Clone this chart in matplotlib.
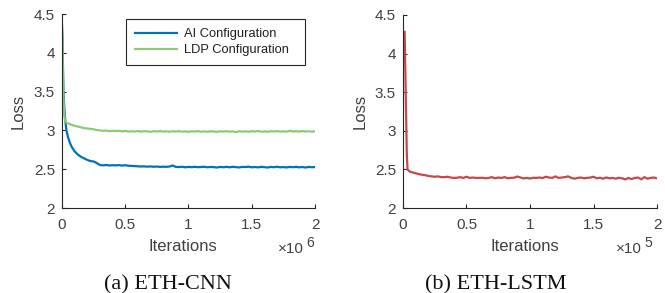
import matplotlib
matplotlib.use('Agg')
import matplotlib.pyplot as plt

# ETH-CNN, iterations in units of 1e6
cnn_iter = [0, 0.004, 0.008, 0.012, 0.018, 0.025, 0.035, 0.05, 0.065, 0.08,
            0.1, 0.125, 0.15, 0.175, 0.2, 0.225, 0.25, 0.275,
            0.3, 0.325, 0.35, 0.375, 0.4, 0.425, 0.45, 0.475, 0.5, 0.525,
            0.55, 0.575, 0.6, 0.625, 0.65, 0.675, 0.7, 0.725, 0.75, 0.775,
            0.8, 0.825, 0.85, 0.875, 0.9, 0.925, 0.95, 0.975, 1.0, 1.025,
            1.05, 1.075, 1.1, 1.125, 1.15, 1.175, 1.2, 1.225, 1.25, 1.275,
            1.3, 1.325, 1.35, 1.375, 1.4, 1.425, 1.45, 1.475, 1.5, 1.525,
            1.55, 1.575, 1.6, 1.625, 1.65, 1.675, 1.7, 1.725, 1.75, 1.775,
            1.8, 1.825, 1.85, 1.875, 1.9, 1.925, 1.95, 1.975, 2.0]
ai_loss = [4.37, 4.2, 3.8, 3.5, 3.3, 3.15, 3.0, 2.9, 2.83, 2.78,
           2.73, 2.69, 2.66, 2.64, 2.62, 2.605, 2.6, 2.58,
           2.555, 2.55, 2.555, 2.548, 2.552, 2.55, 2.553, 2.547, 2.552, 2.545,
           2.543, 2.54, 2.538, 2.535, 2.537, 2.533, 2.536, 2.532, 2.535, 2.53,
           2.533, 2.531, 2.535, 2.548, 2.53, 2.528, 2.532, 2.525, 2.53, 2.527,
           2.531, 2.526, 2.529, 2.532, 2.525, 2.53, 2.527, 2.522, 2.53, 2.526,
           2.531, 2.525, 2.532, 2.527, 2.523, 2.53, 2.528, 2.533, 2.525, 2.529,
           2.524, 2.531, 2.527, 2.522, 2.53, 2.526, 2.532, 2.525, 2.528, 2.523,
           2.53, 2.526, 2.531, 2.524, 2.529, 2.522, 2.53, 2.526, 2.528]
ldp_loss = [4.32, 4.1, 3.7, 3.4, 3.2, 3.13, 3.1, 3.09, 3.08, 3.07,
            3.06, 3.05, 3.04, 3.03, 3.025, 3.02, 3.015, 3.005,
            3.0, 2.995, 2.998, 2.99, 2.996, 2.992, 2.995, 2.988, 2.993, 2.985,
            2.99, 2.986, 2.992, 2.984, 2.99, 2.987, 2.983, 2.99, 2.986, 2.992,
            2.985, 2.989, 2.983, 2.99, 2.986, 2.991, 2.984, 2.988, 2.982, 2.99,
            2.985, 2.991, 2.984, 2.988, 2.983, 2.99, 2.986, 2.982, 2.989, 2.985,
            2.991, 2.984, 2.988, 2.978, 2.99, 2.985, 2.989, 2.983, 2.99, 2.986,
            2.992, 2.984, 2.988, 2.983, 2.99, 2.986, 2.991, 2.985, 2.989, 2.984,
            2.995, 2.986, 2.99, 2.984, 2.992, 2.986, 2.99, 2.984, 2.988]

# ETH-LSTM, iterations in units of 1e5
lstm_iter = [0.013, 0.03, 0.036, 0.05, 0.075, 0.1, 0.125, 0.15, 0.175, 0.2,
             0.225, 0.25, 0.275, 0.3, 0.325, 0.35, 0.375, 0.4, 0.425, 0.45,
             0.475, 0.5, 0.525, 0.55, 0.575, 0.6, 0.625, 0.65, 0.675, 0.7,
             0.725, 0.75, 0.775, 0.8, 0.825, 0.85, 0.875, 0.9, 0.925, 0.95,
             0.975, 1.0, 1.025, 1.05, 1.075, 1.1, 1.125, 1.15, 1.175, 1.2,
             1.225, 1.25, 1.275, 1.3, 1.325, 1.35, 1.375, 1.4, 1.425, 1.45,
             1.475, 1.5, 1.525, 1.55, 1.575, 1.6, 1.625, 1.65, 1.675, 1.7,
             1.725, 1.75, 1.775, 1.8, 1.825, 1.85, 1.875, 1.9, 1.925, 1.95,
             1.975, 2.0]
lstm_loss = [4.28, 2.7, 2.5, 2.475, 2.46, 2.45, 2.44, 2.43, 2.425, 2.415,
             2.41, 2.405, 2.41, 2.4, 2.4, 2.405, 2.395, 2.39, 2.392, 2.4,
             2.39, 2.405, 2.39, 2.395, 2.39, 2.39, 2.392, 2.385, 2.39, 2.4,
             2.385, 2.395, 2.39, 2.4, 2.385, 2.39, 2.393, 2.408, 2.395, 2.383,
             2.39, 2.382, 2.392, 2.39, 2.395, 2.388, 2.405, 2.395, 2.39, 2.41,
             2.39, 2.395, 2.4, 2.41, 2.39, 2.38, 2.39, 2.395, 2.385, 2.39,
             2.395, 2.405, 2.385, 2.392, 2.38, 2.395, 2.385, 2.39, 2.38, 2.392,
             2.385, 2.37, 2.39, 2.375, 2.39, 2.395, 2.372, 2.4, 2.38, 2.39,
             2.395, 2.385]

y_ticks = [2, 2.5, 3, 3.5, 4, 4.5]
x_ticks = [0, 0.5, 1, 1.5, 2]

text_col = '#404040'
sans = 'Liberation Sans'


def style_axes(ax, power, ylab_x, pow_x):
    ax.set_xlim(0, 2)
    ax.set_ylim(2, 4.5)
    ax.set_xticks(x_ticks)
    ax.set_xticklabels(['0', '0.5', '1', '1.5', '2'])
    ax.set_yticks(y_ticks)
    ax.set_yticklabels(['2', '2.5', '3', '3.5', '4', '4.5'])
    for s in ['top', 'right']:
        ax.spines[s].set_visible(False)
    for s in ['left', 'bottom']:
        ax.spines[s].set_color('#262626')
        ax.spines[s].set_linewidth(0.8)
    ax.tick_params(direction='in', length=3, width=0.8, colors='#262626',
                   labelcolor=text_col, labelsize=11, pad=5)
    ax.tick_params(axis='x', pad=7)
    for lab in ax.get_xticklabels() + ax.get_yticklabels():
        lab.set_family(sans)
    ax.set_xlabel('Iterations', family=sans, fontsize=12, color=text_col)
    ax.set_ylabel('Loss', family=sans, fontsize=12, color=text_col)
    ax.xaxis.set_label_coords(0.478, -0.162)
    ax.yaxis.set_label_coords(ylab_x, 0.5)
    # multiplier written MATLAB style: "x10" with a raised exponent
    ax.text(pow_x, -0.232, '\u00d710', transform=ax.transAxes,
            ha='right', va='baseline', fontsize=11, color=text_col, family=sans)
    ax.text(pow_x + 0.008, -0.203, str(power), transform=ax.transAxes,
            ha='left', va='baseline', fontsize=10, color=text_col, family=sans)


fig = plt.figure(figsize=(6.65, 2.93), dpi=100)
ax1 = fig.add_axes([0.0932, 0.290, 0.3805, 0.662])
ax2 = fig.add_axes([0.606, 0.290, 0.382, 0.659])

ax1.plot(cnn_iter, ai_loss, color='#0072BD', lw=1.6, label='AI Configuration   ')
ax1.plot(cnn_iter, ldp_loss, color='#8DC977', lw=1.6, label='LDP Configuration  ')
style_axes(ax1, 6, -0.145, 0.957)
leg = ax1.legend(loc='upper right', bbox_to_anchor=(0.96, 0.974),
                 borderaxespad=0,
                 prop={'family': sans, 'size': 9.3}, fancybox=False,
                 framealpha=1, edgecolor='#262626', handlelength=3.25,
                 borderpad=0.7, labelspacing=0.3, handletextpad=0.55)
leg.get_frame().set_linewidth(0.8)
for t in leg.get_texts():
    t.set_color('#202020')

ax2.plot(lstm_iter, lstm_loss, color='#C8474A', lw=1.6)
style_axes(ax2, 5, -0.14, 0.941)

fig.text(0.252, 0.012, '(a) ETH-CNN', family='Liberation Serif', fontsize=16,
         ha='center', va='baseline', color='#111111')
fig.text(0.745, 0.012, '(b) ETH-LSTM', family='Liberation Serif', fontsize=16,
         ha='center', va='baseline', color='#111111')

fig.savefig('out.png', dpi=100)
